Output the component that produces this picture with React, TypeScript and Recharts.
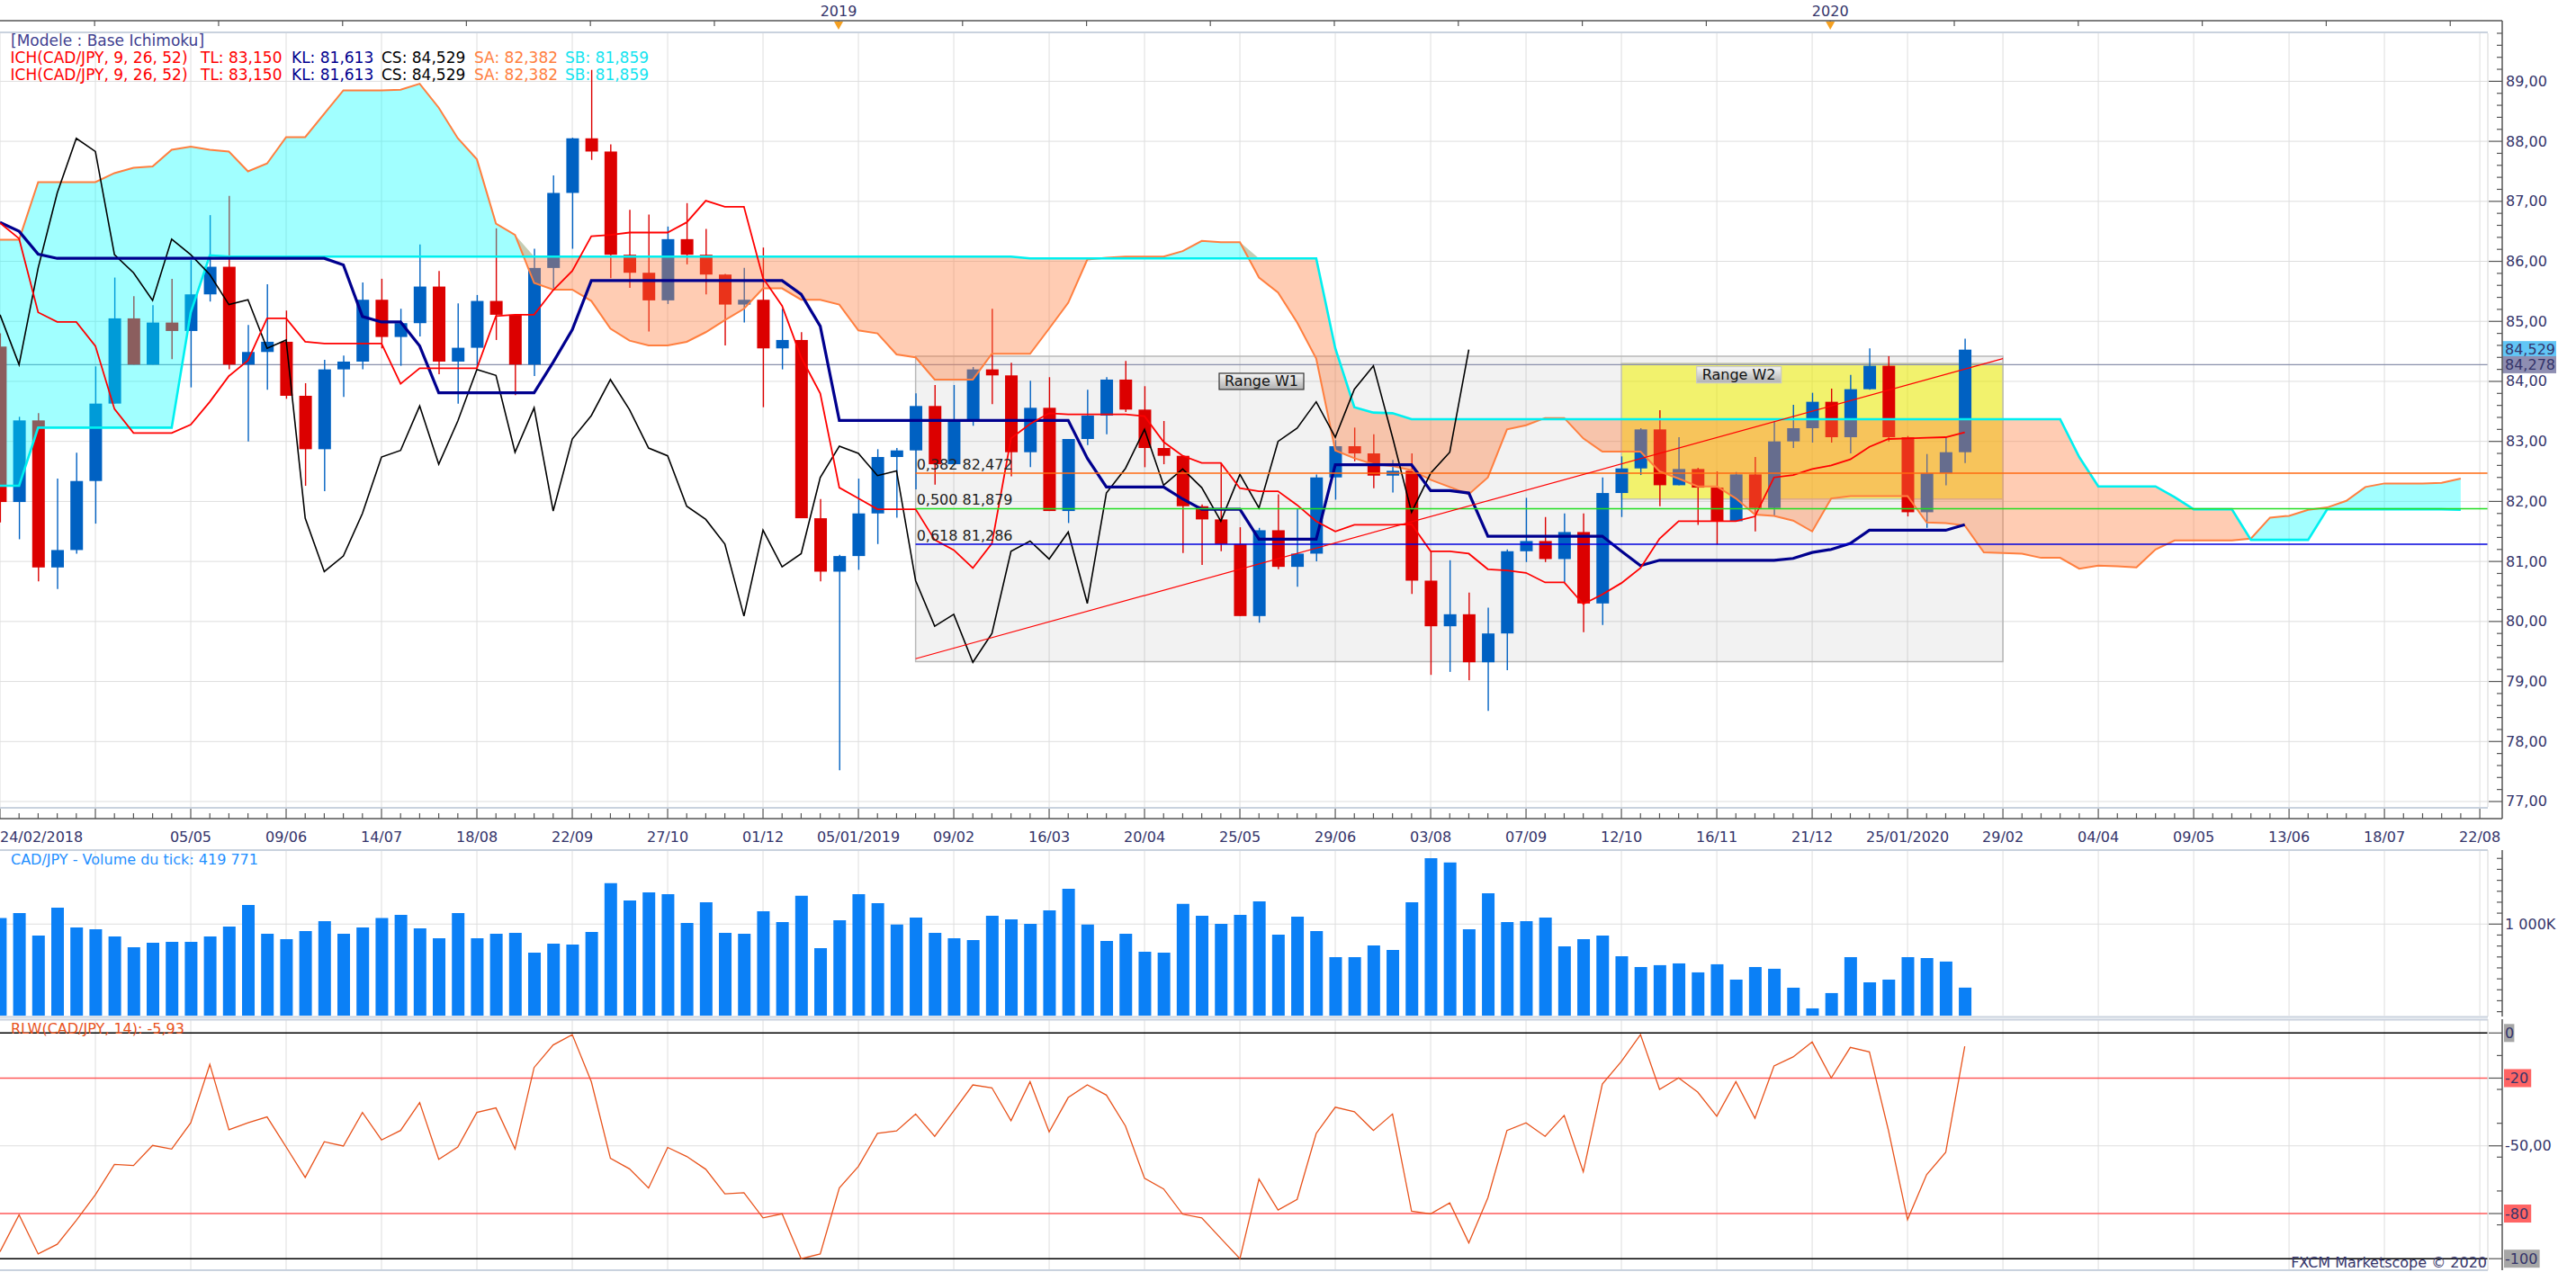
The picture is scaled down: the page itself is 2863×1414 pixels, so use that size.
import React from "react";
import {
  Area,
  Bar,
  CartesianGrid,
  ComposedChart,
  Line,
  ReferenceArea,
  ReferenceDot,
  ReferenceLine,
  XAxis,
  YAxis,
} from "recharts";

const FONT = "DejaVu Sans, Verdana, sans-serif";
const INK = "#34346a";
const CHART_W = 2863;
const AXIS_W = 98;
const X_DOMAIN: [number, number] = [0, 130.42];
const PRICE_DOMAIN: [number, number] = [76.91, 89.8];
const VOLUME_DOMAIN: [number, number] = [164000, 1676000];
const RLW_DOMAIN: [number, number] = [-105.1, 6.1];

const UP = "#0061c2";
const DOWN = "#dc0000";

//------------------------------------------------------------
// CAD/JPY weekly candles, first week = 24/02/2018
//------------------------------------------------------------

const opens = [
  84.58, 81.99, 83.35, 80.9, 81.19, 82.34, 83.63, 85.05, 84.28, 84.98,
  84.84, 85.45, 85.91, 84.28, 84.49, 84.66, 83.76, 82.87, 84.2, 84.33,
  85.36, 84.74, 84.97, 85.58, 84.33, 84.56, 85.34, 85.11, 84.28, 85.89,
  87.14, 88.05, 87.83, 86.11, 85.81, 85.35, 86.37, 86.11, 85.78, 85.28,
  85.36, 84.55, 84.69, 81.72, 80.83, 81.09, 81.8, 82.74, 82.85, 83.59,
  82.62, 83.34, 84.2, 84.1, 82.82, 83.56, 81.84, 83.04, 83.43, 84.03,
  83.53, 82.89, 82.76, 81.92, 81.7, 81.29, 80.09, 81.52, 80.91, 81.13,
  82.4, 82.92, 82.8, 82.43, 82.51, 80.68, 79.92, 80.12, 79.32, 79.8,
  81.17, 81.34, 81.04, 81.49, 80.3, 82.14, 82.55, 83.2, 82.27, 82.54,
  82.23, 81.67, 82.45, 81.89, 83.0, 83.22, 83.66, 83.07, 83.87, 84.26,
  83.07, 81.82, 82.47, 82.82,
];

const highs = [
  84.8, 83.41, 83.47, 82.38, 82.81, 84.25, 85.73, 85.42, 85.27, 85.71,
  86.02, 86.77, 87.09, 84.94, 85.62, 85.18, 83.97, 84.36, 84.43, 85.65,
  85.71, 85.21, 86.28, 85.84, 85.3, 85.44, 86.55, 85.11, 86.21, 87.43,
  88.06, 89.19, 87.95, 86.86, 86.78, 86.58, 86.97, 86.54, 85.79, 85.89,
  86.23, 85.21, 84.82, 82.04, 81.11, 82.38, 82.87, 82.89, 83.8, 83.94,
  83.94, 84.24, 85.21, 84.31, 84.01, 84.07, 83.04, 83.86, 84.07, 84.34,
  83.92, 83.34, 82.76, 81.95, 82.64, 81.57, 81.56, 82.12, 81.87, 82.45,
  83.02, 83.23, 83.12, 82.69, 82.8, 81.17, 81.02, 80.48, 80.23, 81.2,
  82.06, 81.74, 81.8, 81.8, 82.4, 82.75, 83.22, 83.52, 83.07, 82.56,
  82.5, 82.49, 82.74, 83.34, 83.61, 83.81, 83.88, 84.11, 84.55, 84.42,
  83.09, 82.79, 83.07, 84.71,
];

const lows = [
  81.65, 81.37, 80.67, 80.54, 81.13, 81.63, 83.63, 84.28, 84.28, 84.37,
  83.9, 85.33, 84.2, 83.0, 83.86, 83.71, 82.26, 82.17, 83.74, 84.2,
  84.55, 84.26, 84.75, 84.12, 83.63, 84.23, 84.69, 83.77, 84.09, 85.55,
  86.21, 87.69, 85.72, 85.56, 84.83, 85.29, 85.95, 85.45, 84.6, 84.98,
  83.57, 84.2, 81.72, 80.67, 77.52, 80.86, 81.29, 81.73, 82.2, 82.28,
  82.62, 83.26, 83.62, 82.42, 82.57, 81.84, 81.64, 82.94, 83.12, 83.49,
  82.57, 82.62, 81.14, 80.94, 81.17, 80.09, 79.98, 80.87, 80.58, 81.0,
  82.03, 82.67, 82.22, 82.15, 80.46, 79.11, 79.16, 79.02, 78.51, 79.19,
  80.99, 80.99, 80.65, 79.82, 79.94, 81.74, 82.44, 81.92, 82.27, 81.61,
  81.28, 81.67, 81.5, 81.76, 82.89, 82.98, 82.98, 82.8, 83.86, 83.0,
  81.75, 81.56, 82.27, 82.64,
];

const closes = [
  81.99, 83.35, 80.9, 81.19, 82.34, 83.63, 85.05, 84.28, 84.98, 84.84,
  85.45, 85.91, 84.28, 84.49, 84.66, 83.76, 82.87, 84.2, 84.33, 85.36,
  84.74, 84.97, 85.58, 84.33, 84.56, 85.34, 85.11, 84.28, 85.89, 87.14,
  88.05, 87.83, 86.11, 85.81, 85.35, 86.37, 86.11, 85.78, 85.28, 85.36,
  84.55, 84.69, 81.72, 80.83, 81.09, 81.8, 82.74, 82.85, 83.59, 82.62,
  83.34, 84.2, 84.1, 82.82, 83.56, 81.84, 83.04, 83.43, 84.03, 83.53,
  82.89, 82.76, 81.92, 81.7, 81.29, 80.09, 81.52, 80.91, 81.13, 82.4,
  82.92, 82.8, 82.43, 82.51, 80.68, 79.92, 80.12, 79.32, 79.8, 81.17,
  81.34, 81.04, 81.49, 80.3, 82.14, 82.55, 83.2, 82.27, 82.54, 82.23,
  81.67, 82.45, 81.89, 83.0, 83.22, 83.66, 83.07, 83.87, 84.26, 83.07,
  81.82, 82.47, 82.82, 84.529,
];

const tenkan = [
  86.64, 86.38, 85.15, 84.99, 84.99, 84.59, 83.54, 83.14, 83.14, 83.14,
  83.28, 83.66, 84.09, 84.35, 85.05, 85.05, 84.66, 84.63, 84.63, 84.63,
  84.63, 83.96, 84.22, 84.22, 84.22, 84.22, 85.09, 85.11, 85.11, 85.52,
  85.84, 86.42, 86.44, 86.48, 86.48, 86.48, 86.65, 87.01, 86.91, 86.91,
  85.72, 85.26, 84.4, 83.8, 82.23, 82.05, 81.87, 81.87, 81.87, 81.36,
  81.19, 80.89, 81.3, 83.05, 83.29, 83.47, 83.45, 83.45, 83.45, 83.45,
  83.42, 82.99, 82.76, 82.64, 82.64, 82.22, 82.17, 82.17, 81.94, 81.67,
  81.5, 81.61, 81.61, 81.61, 81.62, 81.17, 81.17, 81.13, 80.87, 80.85,
  80.81, 80.65, 80.65, 80.29, 80.45, 80.64, 80.89, 81.38, 81.67, 81.67,
  81.67, 81.67, 81.75, 82.4, 82.44, 82.54, 82.6, 82.7, 82.91, 83.04,
  83.05, 83.06, 83.07, 83.15,
];

const kijun = [
  86.65, 86.5, 86.12, 86.05, 86.05, 86.05, 86.05, 86.05, 86.05, 86.05,
  86.05, 86.05, 86.05, 86.05, 86.05, 86.05, 86.05, 86.05, 85.94, 85.08,
  84.99, 84.99, 84.59, 83.81, 83.81, 83.81, 83.81, 83.81, 83.81, 84.32,
  84.86, 85.68, 85.68, 85.68, 85.68, 85.68, 85.68, 85.68, 85.68, 85.68,
  85.68, 85.68, 85.45, 84.92, 83.35, 83.35, 83.35, 83.35, 83.35, 83.35,
  83.35, 83.35, 83.35, 83.35, 83.35, 83.35, 83.35, 82.72, 82.24, 82.24,
  82.24, 82.24, 82.04, 81.87, 81.87, 81.87, 81.37, 81.37, 81.37, 81.37,
  82.61, 82.61, 82.61, 82.61, 82.61, 82.18, 82.18, 82.14, 81.42, 81.42,
  81.42, 81.42, 81.42, 81.42, 81.42, 81.17, 80.93, 81.02, 81.02, 81.02,
  81.02, 81.02, 81.02, 81.02, 81.05, 81.15, 81.2, 81.3, 81.52, 81.52,
  81.52, 81.52, 81.52, 81.613,
];

// senkou spans as plotted (already 26 weeks ahead)
const senkouA = [
  86.36, 86.36, 87.32, 87.32, 87.32, 87.32, 87.47, 87.56, 87.58, 87.86,
  87.91, 87.86, 87.83, 87.5, 87.63, 88.07, 88.07, 88.46, 88.85, 88.85,
  88.85, 88.86, 88.96, 88.56, 88.05, 87.7, 86.63, 86.44, 85.64, 85.53,
  85.53, 85.34, 84.88, 84.68, 84.6, 84.6, 84.66, 84.82, 85.02, 85.21,
  85.55, 85.55, 85.36, 85.36, 85.28, 84.85, 84.8, 84.45, 84.4, 84.03,
  84.03, 84.03, 84.46, 84.46, 84.46, 84.88, 85.31, 86.03, 86.06, 86.08,
  86.08, 86.08, 86.17, 86.34, 86.32, 86.32, 85.73, 85.48, 84.98, 84.38,
  82.85, 82.72, 82.62, 82.59, 82.52, 82.36, 82.24, 82.12, 82.4, 83.2,
  83.27, 83.39, 83.39, 83.05, 82.83, 82.83, 82.83, 82.5, 82.38, 82.25,
  82.25, 82.05, 81.78, 81.76, 81.68, 81.5, 82.05, 82.09, 82.09, 82.09,
  82.09, 81.65, 81.64, 81.6, 81.15, 81.14, 81.13, 81.06, 81.06, 80.88,
  80.93, 80.92, 80.9, 81.2, 81.35, 81.35, 81.35, 81.35, 81.38, 81.73,
  81.76, 81.86, 81.9, 82.01, 82.24, 82.3, 82.3, 82.3, 82.31, 82.382,
];

const senkouB = [
  82.26, 82.26, 83.23, 83.23, 83.23, 83.23, 83.23, 83.23, 83.23, 83.23,
  85.15, 86.1, 86.08, 86.08, 86.08, 86.08, 86.08, 86.08, 86.08, 86.08,
  86.08, 86.08, 86.08, 86.08, 86.08, 86.08, 86.08, 86.08, 86.08, 86.08,
  86.08, 86.08, 86.08, 86.08, 86.08, 86.08, 86.08, 86.08, 86.08, 86.08,
  86.08, 86.08, 86.08, 86.08, 86.08, 86.08, 86.08, 86.08, 86.08, 86.08,
  86.08, 86.08, 86.08, 86.08, 86.05, 86.05, 86.05, 86.05, 86.05, 86.05,
  86.05, 86.05, 86.05, 86.05, 86.05, 86.05, 86.05, 86.05, 86.05, 86.05,
  84.55, 83.57, 83.48, 83.47, 83.37, 83.37, 83.37, 83.37, 83.37, 83.37,
  83.37, 83.37, 83.37, 83.37, 83.37, 83.37, 83.37, 83.37, 83.37, 83.37,
  83.37, 83.37, 83.37, 83.37, 83.37, 83.37, 83.37, 83.37, 83.37, 83.37,
  83.37, 83.37, 83.37, 83.37, 83.37, 83.37, 83.37, 83.37, 83.37, 82.74,
  82.25, 82.25, 82.25, 82.25, 82.07, 81.87, 81.87, 81.87, 81.36, 81.36,
  81.36, 81.36, 81.87, 81.87, 81.87, 81.87, 81.87, 81.87, 81.87, 81.859,
];

const volumes = [
  1055000, 1101000, 896000, 1151000, 970000, 953000, 888000, 789000, 830000, 838000,
  838000, 888000, 978000, 1175000, 912000, 863000, 937000, 1027000, 912000, 970000,
  1055000, 1085000, 962000, 871000, 1101000, 871000, 912000, 921000, 740000, 822000,
  814000, 929000, 1373000, 1216000, 1290000, 1274000, 1011000, 1200000, 921000, 912000,
  1118000, 1019000, 1258000, 781000, 1036000, 1274000, 1192000, 995000, 1060000, 921000,
  871000, 855000, 1077000, 1044000, 1003000, 1126000, 1323000, 995000, 847000, 912000,
  748000, 740000, 1184000, 1077000, 1003000, 1085000, 1208000, 904000, 1068000, 937000,
  699000, 699000, 805000, 764000, 1200000, 1603000, 1562000, 953000, 1282000, 1019000,
  1027000, 1060000, 797000, 863000, 896000, 707000, 608000, 625000, 641000, 559000,
  633000, 493000, 608000, 592000, 419000, 230000, 370000, 699000, 468000, 493000,
  699000, 690000, 658000, 419771,
];

// Williams %R, 14 weeks
const rlw = [
  -96.9, -80.6, -97.9, -93.6, -83.0, -71.7, -58.2, -58.7, -49.8, -51.4,
  -39.8, -13.9, -42.9, -39.8, -37.2, -50.5, -64.0, -48.2, -50.1, -35.2,
  -47.4, -43.2, -30.8, -56.0, -50.5, -35.2, -33.2, -51.4, -15.3, -5.3,
  -0.7, -21.6, -55.5, -60.2, -68.7, -50.7, -54.7, -60.4, -71.3, -70.8,
  -81.9, -80.1, -100, -97.9, -68.7, -59.1, -44.5, -43.4, -35.9, -45.8,
  -34.5, -23.0, -24.3, -38.9, -21.6, -43.8, -28.6, -23.0, -27.5, -41.2,
  -64.4, -69.1, -80.3, -81.9, -91.0, -100, -64.7, -78.4, -73.7, -44.5,
  -32.9, -34.9, -43.2, -35.9, -79.0, -80.1, -75.3, -93.0, -73.0, -43.2,
  -39.8, -45.8, -36.5, -61.5, -22.6, -12.6, -0.7, -25.0, -19.9, -26.2,
  -36.9, -21.6, -37.8, -14.6, -10.6, -4.0, -19.9, -6.4, -8.4, -43.2,
  -82.7, -62.8, -52.9, -5.93,
];

// one label every 5 weeks (31/03 is not printed in the reference)
const dateLabels = [
  "24/02/2018", "", "05/05", "09/06", "14/07", "18/08", "22/09", "27/10", "01/12",
  "05/01/2019", "09/02", "16/03", "20/04", "25/05", "29/06", "03/08", "07/09",
  "12/10", "16/11", "21/12", "25/01/2020", "29/02", "04/04", "09/05", "13/06",
  "18/07", "22/08",
];

const yearTicks = [
  4.96, 11.46, 17.96, 24.45, 30.95, 37.45, 43.96, 50.46, 56.96, 63.45,
  69.95, 76.45, 82.95, 89.45, 95.95, 102.45, 108.95, 115.45, 121.95, 128.45,
];
const yearLabelTicks = [43.96, 95.95];
const yearLabelTexts = ["2019", "2020"];

const priceGrid = [77, 78, 79, 80, 81, 82, 83, 84, 85, 86, 87, 88, 89];
const priceTags = [84.529, 84.278];
const priceTagColors = ["#62c6f6", "#8e8eb2"];

const fibTexts = ["0,382 82,472", "0,500 81,879", "0,618 81,286"];
const fibPrices = [82.472, 81.879, 81.286];
const fibColors = ["#ff6a10", "#22dd22", "#0000dd"];

const volumeTicks = [
  200000, 300000, 400000, 500000, 600000, 700000, 800000, 900000, 1000000,
  1100000, 1200000, 1300000, 1400000, 1500000, 1600000,
];

const rlwTicks = [0, -10, -20, -25, -40, -50, -55, -70, -80, -85, -100];
const rlwLabelValues = [0, -20, -50, -80, -100];
const rlwLabelTexts = ["0", "-20", "-50,00", "-80", "-100"];
const rlwLabelBg = ["#a6a6a6", "#ff6464", "", "#ff6464", "#a6a6a6"];

//------------------------------------------------------------
// rows
//------------------------------------------------------------

const weekTicks = Array.from({ length: 131 }, (_, i) => i);
const gridWeeks = weekTicks.filter((i) => i % 5 === 0);
const priceTicks = Array.from({ length: 65 }, (_, k) => Math.round((77 + k * 0.2) * 10) / 10);

const chikou = closes.slice(26);

const priceRows = senkouA.map((sa, i) => {
  const sb = senkouB[i];
  const top = Math.max(sa, sb);
  const has = i < closes.length;
  return {
    i,
    range: has ? [lows[i], highs[i]] : null,
    o: has ? opens[i] : null,
    h: has ? highs[i] : null,
    l: has ? lows[i] : null,
    c: has ? closes[i] : null,
    tenkan: has ? tenkan[i] : null,
    kijun: has ? kijun[i] : null,
    chikou: i < chikou.length ? chikou[i] : null,
    sa,
    sb,
    cyanBand: [sb, top],
    orangeBand: [sa, top],
  };
});

const volumeRows = volumes.map((vol, i) => ({ i, vol }));
const rlwRows = rlw.map((v, i) => ({ i, rlw: v }));

//------------------------------------------------------------
// shapes and ticks
//------------------------------------------------------------

function Candle(props: any) {
  const { x, y, width, height, payload } = props;
  if (!payload || payload.range == null || !Number.isFinite(y)) return null;
  const { o, h, l, c } = payload;
  const top = Math.min(y, y + height);
  const span = Math.abs(height);
  const k = h > l ? span / (h - l) : 0;
  const py = (v: number) => top + (h - v) * k;
  const col = c >= o ? UP : DOWN;
  const mid = x + width / 2;
  const bodyTop = py(Math.max(o, c));
  const bodyH = Math.max(2, py(Math.min(o, c)) - bodyTop);
  return (
    <g>
      <line x1={mid} x2={mid} y1={top} y2={top + span} stroke={col} strokeWidth={1.4} />
      <rect x={x} y={bodyTop} width={width} height={bodyH} fill={col} />
    </g>
  );
}

function DateTick(props: any) {
  const { x, y, payload } = props;
  const v = payload.value as number;
  const major = v % 5 === 0;
  const label = major ? dateLabels[v / 5] : "";
  return (
    <g>
      <line x1={x} x2={x} y1={y + (major ? 1 : 7)} y2={y + 13} stroke="#555" strokeWidth={1.2} />
      {label ? (
        <text
          x={x}
          y={y + 39}
          textAnchor={v === 0 ? "start" : "middle"}
          fontSize={16}
          fontFamily={FONT}
          fill={INK}
        >
          {label}
        </text>
      ) : null}
    </g>
  );
}

function YearTick(props: any) {
  const { x, y, payload } = props;
  const k = yearLabelTicks.indexOf(payload.value);
  return (
    <g>
      <line x1={x} x2={x} y1={y - 14} y2={y - 8} stroke="#555" strokeWidth={1.2} />
      {k >= 0 ? (
        <g>
          <polygon points={`${x - 5},${y - 13} ${x + 5},${y - 13} ${x},${y - 4}`} fill="#f5a020" />
          <text x={x} y={y - 19} textAnchor="middle" fontSize={16} fontFamily={FONT} fill={INK}>
            {yearLabelTexts[k]}
          </text>
        </g>
      ) : null}
    </g>
  );
}

function PriceTick(props: any) {
  const { x, y, payload } = props;
  const v = payload.value as number;
  const tag = priceTags.indexOf(v);
  if (tag >= 0) {
    return (
      <g>
        <rect x={x + 16} y={y - 9.5} width={60} height={19} fill={priceTagColors[tag]} />
        <text x={x + 19} y={y} dominantBaseline="central" fontSize={16} fontFamily={FONT} fill={INK}>
          {v.toFixed(3).replace(".", ",")}
        </text>
      </g>
    );
  }
  const major = Math.abs(v - Math.round(v)) < 1e-6;
  return (
    <g>
      <line x1={x + (major ? 1 : 10)} x2={x + 16} y1={y} y2={y} stroke="#555" strokeWidth={1.2} />
      {major ? (
        <text x={x + 20} y={y} dominantBaseline="central" fontSize={16} fontFamily={FONT} fill={INK}>
          {v.toFixed(2).replace(".", ",")}
        </text>
      ) : null}
    </g>
  );
}

function VolumeTick(props: any) {
  const { x, y, payload } = props;
  const major = payload.value === 1000000;
  return (
    <g>
      <line x1={x + (major ? 1 : 10)} x2={x + 16} y1={y} y2={y} stroke="#555" strokeWidth={1.2} />
      {major ? (
        <text x={x + 19} y={y} dominantBaseline="central" fontSize={16} fontFamily={FONT} fill={INK}>
          1 000K
        </text>
      ) : null}
    </g>
  );
}

function RlwTick(props: any) {
  const { x, y, payload } = props;
  const k = rlwLabelValues.indexOf(payload.value);
  const major = k >= 0;
  return (
    <g>
      <line x1={x + (major ? 1 : 10)} x2={x + 16} y1={y} y2={y} stroke="#555" strokeWidth={1.2} />
      {major && rlwLabelBg[k] ? (
        <rect
          x={x + 18}
          y={y - 10}
          width={rlwLabelTexts[k].length * 9.4 + 2}
          height={20}
          fill={rlwLabelBg[k]}
        />
      ) : null}
      {major ? (
        <text x={x + 19} y={y} dominantBaseline="central" fontSize={16} fontFamily={FONT} fill={INK}>
          {rlwLabelTexts[k]}
        </text>
      ) : null}
    </g>
  );
}

function RangeTag(props: any) {
  const { cx, cy, text, dark } = props;
  const w = 94;
  const h = 18;
  const id = "g" + text.replace(/\s/g, "");
  return (
    <g>
      <defs>
        <linearGradient id={id} x1="0" y1="0" x2="0" y2="1">
          <stop offset="0" stopColor="#f6f6f6" />
          <stop offset="1" stopColor="#b0b0b0" />
        </linearGradient>
      </defs>
      <rect
        x={cx - w / 2}
        y={cy - h / 2}
        width={w}
        height={h}
        fill={`url(#${id})`}
        stroke={dark ? "#333" : "#c8c8c8"}
        strokeWidth={1.2}
      />
      <text x={cx} y={cy} textAnchor="middle" dominantBaseline="central" fontSize={16} fontFamily={FONT} fill="#111">
        {text}
      </text>
    </g>
  );
}

//------------------------------------------------------------
// panels
//------------------------------------------------------------

function PricePanel() {
  return (
    <ComposedChart width={CHART_W} height={945} data={priceRows} margin={{ top: 0, right: 0, bottom: 0, left: 0 }}>
      <CartesianGrid stroke="#dedede" verticalValues={gridWeeks} horizontalValues={priceGrid} />
      <XAxis
        dataKey="i"
        type="number"
        domain={X_DOMAIN}
        allowDataOverflow
        ticks={weekTicks}
        interval={0}
        height={48}
        tickSize={0}
        tickMargin={0}
        tickLine={false}
        axisLine={false}
        tick={<DateTick />}
      />
      <XAxis
        xAxisId="top"
        orientation="top"
        dataKey="i"
        type="number"
        domain={X_DOMAIN}
        allowDataOverflow
        ticks={yearTicks}
        interval={0}
        height={37}
        tickSize={0}
        tickMargin={0}
        tickLine={false}
        axisLine={false}
        tick={<YearTick />}
      />
      <YAxis
        orientation="right"
        type="number"
        domain={PRICE_DOMAIN}
        allowDataOverflow
        ticks={[...priceTicks, ...priceTags]}
        interval={0}
        width={AXIS_W}
        tickSize={0}
        tickMargin={0}
        tickLine={false}
        axisLine={false}
        tick={<PriceTick />}
      />

      <ReferenceArea x1={48} x2={105} y1={79.33} y2={84.42} fill="#000" fillOpacity={0.05} stroke="#b8b8b8" strokeWidth={1.5} zIndex={10} />
      <ReferenceArea x1={85} x2={105} y1={82.04} y2={84.3} fill="#f2f200" fillOpacity={0.55} stroke="#c4c4b4" strokeWidth={1.5} zIndex={11} />
      <ReferenceLine y={priceTags[1]} stroke="#8a90ac" strokeWidth={1.3} zIndex={20} />

      <Bar dataKey="range" barSize={14} shape={<Candle />} isAnimationActive={false} />

      <Area dataKey="cyanBand" type="linear" fill="#00ffff" fillOpacity={0.37} stroke="none" isAnimationActive={false} zIndex={350} />
      <Area dataKey="orangeBand" type="linear" fill="#ff8040" fillOpacity={0.4} stroke="none" isAnimationActive={false} zIndex={351} />

      {fibPrices.map((p, k) => (
        <ReferenceLine
          key={fibTexts[k]}
          segment={[{ x: 48, y: p }, { x: X_DOMAIN[1], y: p }]}
          stroke={fibColors[k]}
          strokeWidth={1.5}
          zIndex={450}
        />
      ))}
      <ReferenceLine segment={[{ x: 48, y: 79.38 }, { x: 105, y: 84.38 }]} stroke="#ff0000" strokeWidth={1.2} zIndex={451} />

      <Line dataKey="sa" type="linear" stroke="#ff7f3f" strokeWidth={2} dot={false} activeDot={false} isAnimationActive={false} />
      <Line dataKey="sb" type="linear" stroke="#00f0f0" strokeWidth={2.6} dot={false} activeDot={false} isAnimationActive={false} />
      <Line dataKey="chikou" type="linear" stroke="#000000" strokeWidth={1.6} dot={false} activeDot={false} isAnimationActive={false} />
      <Line dataKey="kijun" type="linear" stroke="#00008e" strokeWidth={3.2} dot={false} activeDot={false} isAnimationActive={false} />
      <Line dataKey="tenkan" type="linear" stroke="#ff0000" strokeWidth={1.8} dot={false} activeDot={false} isAnimationActive={false} />
      <Line xAxisId="top" dataKey="sa" stroke="none" dot={false} activeDot={false} legendType="none" isAnimationActive={false} />

      {fibPrices.map((p, k) => (
        <ReferenceDot
          key={"t" + fibTexts[k]}
          x={48}
          y={p}
          r={1}
          zIndex={600}
          shape={(s: any) => (
            <text x={s.cx + 1} y={s.cy - 4} fontSize={16} fontFamily={FONT} fill="#222">
              {fibTexts[k]}
            </text>
          )}
        />
      ))}
      <ReferenceDot x={66.13} y={84.0} r={1} zIndex={600} shape={(s: any) => <RangeTag {...s} text="Range W1" dark />} />
      <ReferenceDot x={91.16} y={84.11} r={1} zIndex={600} shape={(s: any) => <RangeTag {...s} text="Range W2" />} />
    </ComposedChart>
  );
}

function VolumePanel() {
  return (
    <ComposedChart width={CHART_W} height={186} data={volumeRows} margin={{ top: 0, right: 0, bottom: 2, left: 0 }}>
      <CartesianGrid stroke="#dedede" verticalValues={gridWeeks} horizontalValues={[1000000]} />
      <XAxis dataKey="i" type="number" domain={X_DOMAIN} allowDataOverflow ticks={gridWeeks} hide />
      <YAxis
        orientation="right"
        type="number"
        domain={VOLUME_DOMAIN}
        allowDataOverflow
        ticks={volumeTicks}
        interval={0}
        width={AXIS_W}
        tickSize={0}
        tickMargin={0}
        tickLine={false}
        axisLine={false}
        tick={<VolumeTick />}
      />
      <Bar dataKey="vol" barSize={14} fill="#0b80f6" isAnimationActive={false} />
    </ComposedChart>
  );
}

function RlwPanel() {
  return (
    <ComposedChart width={CHART_W} height={283} data={rlwRows} margin={{ top: 2, right: 0, bottom: 2, left: 0 }}>
      <CartesianGrid stroke="#dedede" verticalValues={gridWeeks} horizontalValues={[-50]} />
      <XAxis dataKey="i" type="number" domain={X_DOMAIN} allowDataOverflow ticks={gridWeeks} hide />
      <YAxis
        orientation="right"
        type="number"
        domain={RLW_DOMAIN}
        allowDataOverflow
        ticks={rlwTicks}
        interval={0}
        width={AXIS_W}
        tickSize={0}
        tickMargin={0}
        tickLine={false}
        axisLine={false}
        tick={<RlwTick />}
      />
      <ReferenceLine y={0} stroke="#000" strokeWidth={1.6} />
      <ReferenceLine y={-100} stroke="#000" strokeWidth={1.6} />
      <ReferenceLine y={-20} stroke="#ff5a5a" strokeWidth={1.5} />
      <ReferenceLine y={-80} stroke="#ff5a5a" strokeWidth={1.5} />
      <Line dataKey="rlw" type="linear" stroke="#e8531c" strokeWidth={1.3} dot={false} activeDot={false} isAnimationActive={false} />
    </ComposedChart>
  );
}

//------------------------------------------------------------
// page
//------------------------------------------------------------

export default function App() {
  const txt = { fontFamily: FONT } as const;
  return (
    <div style={{ position: "relative", width: CHART_W, height: 1414, background: "#fff", overflow: "hidden", fontFamily: FONT }}>
      <style>{"html,body{margin:0;padding:0;background:#fff}"}</style>

      <div style={{ position: "absolute", left: 0, top: 0 }}>
        <PricePanel />
      </div>
      <div style={{ position: "absolute", left: 0, top: 945 }}>
        <VolumePanel />
      </div>
      <div style={{ position: "absolute", left: 0, top: 1131 }}>
        <RlwPanel />
      </div>

      <svg width={CHART_W} height={1414} style={{ position: "absolute", left: 0, top: 0, pointerEvents: "none" }}>
        {/* frame */}
        <line x1={0} x2={2781} y1={23} y2={23} stroke="#555" strokeWidth={1.5} />
        <line x1={0} x2={2765} y1={36} y2={36} stroke="#c9d2de" strokeWidth={2} />
        <line x1={0} x2={2765} y1={898} y2={898} stroke="#c9d2de" strokeWidth={2} />
        <line x1={2765} x2={2765} y1={37} y2={897} stroke="#d4d4d4" />
        <line x1={0} x2={2781} y1={910} y2={910} stroke="#555" strokeWidth={1.5} />
        <line x1={2781} x2={2781} y1={23} y2={910} stroke="#555" strokeWidth={1.5} />

        <line x1={0} x2={2765} y1={945} y2={945} stroke="#c9d2de" strokeWidth={2} />
        <line x1={0} x2={2765} y1={1130.5} y2={1130.5} stroke="#c9d2de" strokeWidth={2} />
        <line x1={2765} x2={2765} y1={945} y2={1130} stroke="#d4d4d4" />
        <line x1={2781} x2={2781} y1={945} y2={1130} stroke="#555" strokeWidth={1.5} />

        <line x1={0} x2={2765} y1={1133.5} y2={1133.5} stroke="#c9d2de" strokeWidth={2} />
        <line x1={0} x2={2765} y1={1412} y2={1412} stroke="#c9d2de" strokeWidth={2} />
        <line x1={2765} x2={2765} y1={1133} y2={1412} stroke="#d4d4d4" />
        <line x1={2781} x2={2781} y1={1133} y2={1412} stroke="#555" strokeWidth={1.5} />

        {/* indicator headers */}
        <text x={12} y={51} fontSize={17} fill="#404090" style={txt}>[Modele : Base Ichimoku]</text>
        {[70, 88.5].map((by) => (
          <g key={by} fontSize={17} style={txt}>
            <text x={11.5} y={by} fill="#ff0000">ICH(CAD/JPY, 9, 26, 52)</text>
            <text x={223} y={by} fill="#ff0000">TL: 83,150</text>
            <text x={324} y={by} fill="#00008e">KL: 81,613</text>
            <text x={424} y={by} fill="#000000">CS: 84,529</text>
            <text x={527} y={by} fill="#ff8040">SA: 82,382</text>
            <text x={628} y={by} fill="#14e4f0">SB: 81,859</text>
          </g>
        ))}
        <text x={12} y={961} fontSize={16} fill="#1f8fff" style={txt}>CAD/JPY - Volume du tick: 419 771</text>
        <text x={12} y={1149} fontSize={16} fill="#e8531c" style={txt}>RLW(CAD/JPY, 14): -5,93</text>
        <text x={2764} y={1409} textAnchor="end" fontSize={16} fill={INK} style={txt}>FXCM Marketscope © 2020</text>
      </svg>
    </div>
  );
}
